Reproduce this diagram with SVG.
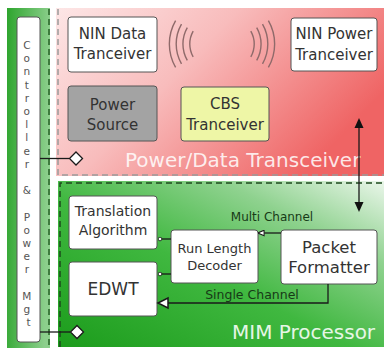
<svg xmlns="http://www.w3.org/2000/svg" width="384" height="348" viewBox="0 0 384 348">
  <defs>
    <linearGradient id="pinkFill" x1="0" y1="0" x2="1" y2="0.5">
      <stop offset="0" stop-color="#fde6e6"/>
      <stop offset="0.45" stop-color="#f8bcbc"/>
      <stop offset="1" stop-color="#ef6464"/>
    </linearGradient>
    <linearGradient id="greenFill" x1="0" y1="1" x2="1" y2="0">
      <stop offset="0" stop-color="#1c9c1c"/>
      <stop offset="0.45" stop-color="#40b840"/>
      <stop offset="0.75" stop-color="#8fd28f"/>
      <stop offset="1" stop-color="#eaf6ea"/>
    </linearGradient>
    <linearGradient id="stripFill" x1="0" y1="0" x2="1" y2="0.15">
      <stop offset="0" stop-color="#2ea52e"/>
      <stop offset="1" stop-color="#8ccf8c"/>
    </linearGradient>
    <marker id="openTri" viewBox="0 0 10 10" refX="9" refY="5" markerWidth="7" markerHeight="7" orient="auto" markerUnits="userSpaceOnUse">
      <path d="M10,5 L1,1 L1,9 Z" fill="#fff" stroke="#1a1a1a" stroke-width="1.5"/>
    </marker>
    <marker id="dot" viewBox="0 0 6 6" refX="3" refY="3" markerWidth="5" markerHeight="5" orient="auto" markerUnits="userSpaceOnUse">
      <circle cx="3" cy="3" r="2.2" fill="#fff" stroke="#1a1a1a" stroke-width="1"/>
    </marker>
  </defs>
  <style>
    .box { fill: #fff; stroke: #555; stroke-width: 1; }
    .lbl { font-family: "DejaVu Sans", "Liberation Sans", sans-serif; fill: #333; text-anchor: middle; }
    .wire { fill: none; stroke: #1a1a1a; stroke-width: 1.3; }
    .wave { fill: none; stroke: #8f6a6a; stroke-width: 1.4; }
    .region { font-family: "DejaVu Sans", "Liberation Sans", sans-serif; font-size: 20px; }
    .chan { font-family: "DejaVu Sans", "Liberation Sans", sans-serif; fill: #173a17; text-anchor: middle; }
  </style>

  <rect width="384" height="348" fill="#fff"/>

  <!-- regions -->
  <g id="power-data-transceiver">
    <rect x="56" y="8" width="328" height="168" fill="url(#pinkFill)"/>
    <path d="M58,9 V175 H384" fill="none" stroke="#9a9a9a" stroke-width="1.5" stroke-dasharray="6 4"/>
    <text class="region" x="125" y="167" fill="#fff" fill-opacity="0.85">Power/Data Transceiver</text>
  </g>
  <g id="mim-processor">
    <rect x="58" y="181" width="326" height="166" fill="url(#greenFill)"/>
    <path d="M60,347 V183 H384" fill="none" stroke="#1d4a1d" stroke-width="1.5" stroke-dasharray="6 4"/>
    <text class="region" x="232" y="339" fill="#e6f6e6">MIM Processor</text>
  </g>
  <g id="controller-strip">
    <rect x="7" y="8" width="43" height="340" fill="url(#stripFill)"/>
    <path d="M49,9 V348" fill="none" stroke="#256025" stroke-width="1.5" stroke-dasharray="6 4"/>
  </g>

  <!-- controller & power management -->
  <g id="controller">
    <rect x="17" y="17" width="23" height="325" rx="3" class="box"/>
    <text font-family="DejaVu Sans, sans-serif" font-size="10.5" fill="#555" text-anchor="middle">
      <tspan x="28.5" y="49">C</tspan>
      <tspan x="28.5" y="62.2">o</tspan>
      <tspan x="28.5" y="75.4">n</tspan>
      <tspan x="28.5" y="88.6">t</tspan>
      <tspan x="28.5" y="101.8">r</tspan>
      <tspan x="28.5" y="115">o</tspan>
      <tspan x="28.5" y="128.2">l</tspan>
      <tspan x="28.5" y="141.4">l</tspan>
      <tspan x="28.5" y="154.6">e</tspan>
      <tspan x="28.5" y="167.8">r</tspan>
      <tspan x="28.5" y="194.2">&amp;</tspan>
      <tspan x="28.5" y="220.6">P</tspan>
      <tspan x="28.5" y="233.8">o</tspan>
      <tspan x="28.5" y="247">w</tspan>
      <tspan x="28.5" y="260.2">e</tspan>
      <tspan x="28.5" y="273.4">r</tspan>
      <tspan x="28.5" y="299.8">M</tspan>
      <tspan x="28.5" y="313">g</tspan>
      <tspan x="28.5" y="326.2">t</tspan>
    </text>
  </g>

  <!-- transceiver blocks -->
  <g id="nin-data">
    <rect x="68" y="17" width="89" height="55" rx="3" class="box"/>
    <text class="lbl" font-size="15" x="112.5" y="39">NIN Data</text>
    <text class="lbl" font-size="15" x="112.5" y="59">Tranceiver</text>
  </g>
  <g id="nin-power">
    <rect x="291" y="18" width="86" height="53" rx="3" class="box"/>
    <text class="lbl" font-size="15" x="334" y="39">NIN Power</text>
    <text class="lbl" font-size="15" x="334" y="60">Tranceiver</text>
  </g>
  <g id="power-source">
    <rect x="68" y="86" width="89" height="55" rx="3" fill="#a3a3a3" stroke="#555" stroke-width="1"/>
    <text class="lbl" font-size="15" x="112.5" y="110">Power</text>
    <text class="lbl" font-size="15" x="112.5" y="130">Source</text>
  </g>
  <g id="cbs">
    <rect x="181" y="87" width="88" height="54" rx="3" fill="#eef6a6" stroke="#555" stroke-width="1"/>
    <text class="lbl" font-size="15" x="225" y="109">CBS</text>
    <text class="lbl" font-size="15" x="225" y="130">Tranceiver</text>
  </g>

  <!-- wireless symbols -->
  <g id="waves">
    <path class="wave" d="M175.6,20.6 A47,47 0 0 0 175.6,67.4 M181.5,24.1 A40,40 0 0 0 181.5,63.9 M187.3,27.6 A33,33 0 0 0 187.3,60.4 M193.2,31.1 A26,26 0 0 0 193.2,56.9"/>
    <path class="wave" d="M268.4,20.6 A47,47 0 0 1 268.4,67.4 M262.5,24.1 A40,40 0 0 1 262.5,63.9 M256.7,27.6 A33,33 0 0 1 256.7,60.4 M250.8,31.1 A26,26 0 0 1 250.8,56.9"/>
  </g>

  <!-- processor blocks -->
  <g id="translation">
    <rect x="69" y="196" width="88" height="53" rx="3" class="box"/>
    <text class="lbl" font-size="14" x="113" y="216">Translation</text>
    <text class="lbl" font-size="14" x="113" y="235">Algorithm</text>
  </g>
  <g id="edwt">
    <rect x="69" y="262" width="88" height="54" rx="3" class="box"/>
    <text class="lbl" font-size="17" x="113" y="295">EDWT</text>
  </g>
  <g id="run-length">
    <rect x="171" y="230" width="87" height="53" rx="3" class="box"/>
    <text class="lbl" font-size="13" x="214.5" y="252.5">Run Length</text>
    <text class="lbl" font-size="13" x="214.5" y="269.5">Decoder</text>
  </g>
  <g id="packet">
    <rect x="281" y="230" width="96" height="54" rx="3" class="box"/>
    <text class="lbl" font-size="16.5" x="329" y="253">Packet</text>
    <text class="lbl" font-size="16.5" x="329" y="273">Formatter</text>
  </g>

  <!-- connectors -->
  <g id="connectors">
    <path class="wire" d="M40,158.5 H69"/>
    <path d="M76,152 L82.5,158.5 L76,165 L69.5,158.5 Z" fill="#fff" stroke="#1a1a1a" stroke-width="1.3"/>
    <path class="wire" d="M40,332 H70"/>
    <path d="M77,325.5 L83.5,332 L77,338.5 L70.5,332 Z" fill="#fff" stroke="#1a1a1a" stroke-width="1.3"/>

    <path class="wire" d="M359,126 V204"/>
    <path d="M359,118 L363.5,128 L354.5,128 Z" fill="#111"/>
    <path d="M359,212 L363.5,202 L354.5,202 Z" fill="#111"/>

    <path class="wire" d="M281,233 H258.5" marker-end="url(#openTri)"/>
    <path class="wire" d="M171,239 H160" marker-end="url(#dot)"/>
    <path class="wire" d="M171,274 H160" marker-end="url(#dot)"/>
    <path class="wire" d="M328,284 V303 H168"/>
    <path d="M158,303 L168,298 L168,308 Z" fill="#fff" stroke="#1a1a1a" stroke-width="1.5"/>

    <text class="chan" font-size="12" x="272" y="221">Multi Channel</text>
    <text class="chan" font-size="12.5" x="252" y="299">Single Channel</text>
  </g>
</svg>
